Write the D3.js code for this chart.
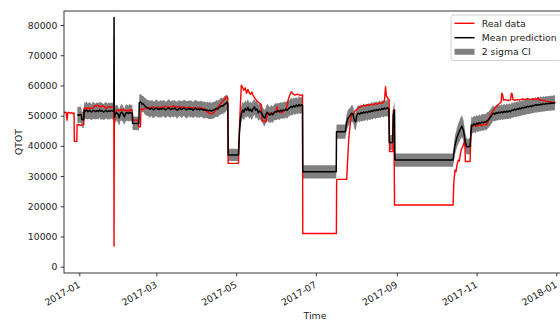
<!DOCTYPE html>
<html>
<head>
<meta charset="utf-8">
<script src="https://cdn.jsdelivr.net/npm/d3@7"></script>
<style>
  body { margin: 0; background: #fff; }
  svg { display: block; }
  text { font-family: "DejaVu Sans", sans-serif; fill: #222; }
</style>
</head>
<body>
<svg id="chart" width="560" height="322"></svg>
<script>
// Day offsets are counted from 2017-01-01 (UTC).
const epoch = Date.UTC(2017, 0, 1);
const xTickLabels = ["2017-01", "2017-03", "2017-05", "2017-07", "2017-09", "2017-11", "2018-01"];
const yTicks = [0, 10000, 20000, 30000, 40000, 50000, 60000, 70000, 80000];
const legendLabels = ["Real data", "Mean prediction", "2 sigma CI"];

// Measured QTOT: [day, value]
const realData = [
  [-11.5, 50800], [-10.8, 51200], [-10, 50900], [-9.4, 48500], [-8.8, 51000], [-8, 51100], [-7, 50800],
  [-6, 51000], [-5, 50700], [-4, 50900], [-3.8, 41500], [-1.9, 41500], [-1.7, 46900], [0, 47000],
  [1.5, 46800], [3.4, 47100], [3.6, 52400], [5, 52600], [6, 52300], [7, 52700], [8, 52200], [9, 52500],
  [10, 52400], [11, 52800], [12, 53300], [13, 53100], [14, 53500], [15, 53200], [16, 52800], [17, 53000],
  [18, 53400], [19, 52900], [20, 52700], [21, 52500], [22, 52800], [23, 53000], [24, 52700], [25, 52900],
  [26.4, 52600], [26.6, 6800], [26.8, 47000], [27.5, 50500], [28.5, 51800], [29.5, 51900], [30.5, 51600],
  [31.5, 52000], [32.5, 51800], [33.5, 52100], [34.5, 51700], [35.5, 51900], [36.5, 51500], [37.5, 51800],
  [38.5, 51700], [39.5, 52000], [40.5, 51800], [40.8, 48600], [45.0, 48500], [45.5, 46300], [46.8, 46300],
  [47.2, 52000], [48, 52300], [49, 52000], [50, 52400], [52, 52700], [54, 52500], [56, 52900], [58, 52600],
  [60, 52800], [62, 52500], [64, 52900], [66, 53100], [68, 52700], [70, 52900], [72, 53200], [74, 52800],
  [76, 53000], [78, 52700], [80, 52900], [82, 52600], [84, 52800], [86, 52500], [88, 52700], [90, 52400],
  [92, 52600], [94, 52400], [96, 52200], [97.5, 51400], [99, 50900], [101, 50600], [102.5, 50800],
  [104, 51600], [105.5, 52500], [107, 53300], [108.5, 54100], [110, 54900], [111.5, 55600], [112.8, 56300],
  [113.6, 55900], [113.9, 34200], [121.8, 34200], [122.4, 44000], [123.2, 53000], [124, 60100], [125, 59300],
  [126, 58400], [127, 59200], [128, 57400], [129, 58700], [130, 57600], [131, 57100], [132, 57800],
  [133, 56700], [134, 56000], [135, 55400], [136.5, 54600], [138, 54100], [139.3, 53600], [139.8, 48300],
  [143, 48000], [143.6, 50800], [145, 50600], [147, 50900], [149, 50700], [150.5, 51500], [151.2, 53000],
  [152, 51600], [154, 51000], [156, 51300], [157.5, 51800], [158.7, 52800], [159.8, 55200], [161, 56800],
  [162.3, 57900], [163.5, 57200], [165, 56800], [167, 57100], [169, 56700], [170.8, 56900], [171, 11000],
  [196.7, 11000], [196.9, 28900], [204.6, 28900], [205.3, 35000], [206.2, 42600], [207.5, 48000],
  [208.5, 50600], [209.5, 50300], [210.5, 51200], [211.5, 51800], [213, 52300], [214.5, 52900], [216, 53100],
  [217.5, 53400], [219, 53200], [220.5, 53600], [222, 53400], [223.5, 53800], [225, 53600], [226.5, 54000],
  [228, 53800], [229.5, 54200], [231, 54000], [232.5, 54400], [233.5, 55000], [234.3, 59600], [235, 56500],
  [236.4, 55600], [237.1, 55300], [237.4, 38100], [240, 38100], [240.3, 51900], [240.7, 51900],
  [241.2, 20400], [286, 20400], [286.6, 28000], [287.5, 32000], [288.3, 31500], [289, 33800], [290, 35300],
  [290.8, 35000], [291.6, 37500], [292.6, 39200], [293.5, 39800], [295, 41900], [295.4, 34800], [299, 34800],
  [299.8, 45000], [300.5, 46300], [302, 46800], [304, 46500], [306, 47000], [308, 46700], [310, 47100],
  [311.7, 47000], [313, 48500], [314.5, 50000], [315.5, 50800], [317, 51800], [318.5, 52800], [320.3, 53500],
  [321.5, 54000], [322.8, 54500], [323.3, 57400], [323.9, 57000], [324.5, 55200], [326, 55300], [328, 55000],
  [330, 55200], [330.6, 57400], [331.2, 57200], [331.8, 55400], [333, 55100], [335, 55300], [337, 55200],
  [339, 55500], [341, 55300], [343, 55600], [345, 55400], [347, 55500], [349, 55300], [350.5, 55600],
  [351, 56000], [351.5, 55400], [353, 55100], [355, 55000], [357, 54800], [359, 54700], [361, 54500],
  [363, 54400], [364.5, 54300]
];

// Model output: [day, mean, sigma]; the band spans mean ± 2 sigma
const prediction = [
  [-1.5, 50300, 1300], [-0.5, 50100, 1400], [0.5, 50400, 1300], [1.5, 50200, 1350], [2, 48700, 1300],
  [3.3, 48600, 1400], [3.8, 51800, 1350], [4.5, 51500, 1300], [5.5, 51900, 1450], [6.5, 51300, 1300],
  [7.5, 51700, 1350], [8.5, 51500, 1400], [9.5, 51200, 1300], [10.5, 51800, 1450], [11.5, 51600, 1350],
  [12.5, 51300, 1300], [13.5, 51700, 1400], [14.5, 51400, 1350], [15.5, 51900, 1300], [16.5, 51500, 1450],
  [17.5, 51600, 1350], [18.5, 51200, 1300], [19.5, 51500, 1400], [20.5, 51800, 1350], [21.5, 51300, 1300],
  [22.5, 51600, 1400], [23.5, 51400, 1350], [24.5, 51700, 1300], [25.5, 51500, 1400], [26.4, 51600, 1350],
  [26.6, 82500, 1350], [26.8, 49500, 1400], [27.5, 50500, 1350], [28.5, 51000, 1300], [29.5, 50600, 1400],
  [30.5, 49300, 1350], [31.5, 50800, 1300], [32.5, 51200, 1400], [33.5, 50500, 1350], [34.5, 49600, 1300],
  [35.5, 50900, 1400], [36.5, 51000, 1350], [37.5, 50700, 1300], [38.5, 51100, 1400], [39.5, 50800, 1350],
  [40.6, 50900, 1300], [40.8, 47500, 1125], [45.6, 47400, 1125], [45.9, 54200, 1400], [47, 54500, 1350],
  [48, 53800, 1400], [49, 53900, 1300], [50, 53200, 1350], [51, 52900, 1400], [52, 52600, 1300],
  [53, 52400, 1350], [54, 52100, 1400], [55, 52500, 1300], [56, 52200, 1450], [57, 51900, 1350],
  [58, 52300, 1300], [59, 52600, 1400], [60, 52200, 1350], [61, 52000, 1300], [62, 52400, 1450],
  [63, 52100, 1350], [64, 52500, 1300], [65, 52300, 1400], [66, 51900, 1350], [67, 52200, 1300],
  [68, 52600, 1400], [69, 52300, 1450], [70, 52000, 1350], [71, 52400, 1300], [72, 52200, 1400],
  [73, 52500, 1350], [74, 52100, 1300], [75, 51800, 1450], [76, 52300, 1350], [77, 52500, 1300],
  [78, 52000, 1400], [79, 52200, 1350], [80, 52600, 1300], [81, 52300, 1400], [82, 51900, 1450],
  [83, 52200, 1350], [84, 52400, 1300], [85, 52100, 1400], [86, 52300, 1350], [87, 51800, 1300],
  [88, 52200, 1400], [89, 52500, 1350], [90, 52000, 1450], [91, 52200, 1300], [92, 51900, 1400],
  [93, 52300, 1350], [94, 52100, 1300], [95, 51800, 1400], [96, 52000, 1350], [97, 51700, 1300],
  [98, 51900, 1400], [99, 51600, 1350], [100, 51800, 1450], [101, 51500, 1300], [102, 51700, 1400],
  [103, 51900, 1350], [104, 52100, 1300], [105, 52400, 1400], [106, 52200, 1350], [107, 52700, 1300],
  [108, 53000, 1400], [109, 53300, 1350], [110, 53200, 1300], [111, 53700, 1400], [112, 54000, 1350],
  [113, 54400, 1300], [113.7, 53800, 1300], [113.9, 37000, 1025], [121.8, 37000, 1025],
  [122.6, 45000, 1500], [123.2, 48600, 1500], [124, 50500, 1400], [125, 51900, 1350], [126, 51200, 1400],
  [127, 52400, 1350], [128, 51800, 1300], [129, 52800, 1400], [130, 51600, 1350], [131, 52100, 1300],
  [132, 51300, 1400], [133, 52300, 1350], [134, 52900, 1300], [135, 51800, 1400], [136, 52200, 1350],
  [137, 50900, 1300], [138, 51600, 1400], [139, 51200, 1350], [140, 50400, 1300], [141, 49500, 1400],
  [142, 49200, 1350], [143, 50600, 1300], [144, 51100, 1400], [145, 50400, 1350], [146, 50200, 1300],
  [147, 50800, 1400], [148, 50300, 1350], [149, 51000, 1300], [150, 51400, 1400], [151, 51200, 1350],
  [152, 51600, 1300], [153, 51300, 1400], [154, 51800, 1350], [155, 51500, 1300], [156, 51900, 1400],
  [157, 51700, 1350], [158, 52100, 1300], [159, 51800, 1400], [160, 52300, 1350], [161, 52600, 1300],
  [162, 53100, 1400], [163, 52700, 1350], [164, 53300, 1300], [165, 52900, 1400], [166, 53500, 1350],
  [167, 53000, 1300], [168, 53700, 1400], [169, 53200, 1350], [170, 53600, 1300], [170.8, 53400, 1350],
  [171, 31400, 1100], [196.6, 31400, 1100], [196.8, 44700, 1175], [203.5, 44700, 1175],
  [204.5, 47500, 1400], [205.5, 49100, 1400], [206.5, 49600, 1350], [207.5, 50200, 1300],
  [208.5, 50800, 1400], [209.5, 50400, 1350], [210.5, 48300, 1300], [211.5, 48000, 1400],
  [212.5, 50300, 1350], [213.5, 50800, 1300], [214.5, 50500, 1400], [215.5, 51000, 1350],
  [216.5, 50700, 1300], [217.5, 51200, 1400], [218.5, 50900, 1350], [219.5, 51300, 1300],
  [220.5, 51000, 1400], [221.5, 51500, 1350], [222.5, 51200, 1300], [223.5, 51700, 1400],
  [224.5, 51400, 1350], [225.5, 51900, 1300], [226.5, 51600, 1400], [227.5, 52000, 1350],
  [228.5, 51700, 1300], [229.5, 52200, 1400], [230.5, 51900, 1350], [231.5, 52400, 1300],
  [232.5, 52100, 1400], [233.5, 52500, 1350], [234.5, 52200, 1300], [235.5, 52600, 1400],
  [236.8, 52400, 1350], [237.2, 41000, 1250], [239.8, 41200, 1250], [240.2, 50200, 1350],
  [241.2, 51900, 1350], [241.5, 35300, 1100], [286, 35300, 1100], [287.3, 40000, 1500],
  [288.8, 42500, 1600], [290, 44000, 1700], [291.5, 45500, 1800], [292.8, 46500, 1800], [294, 45000, 1700],
  [295.5, 41000, 1500], [296.5, 39700, 1300], [299, 39800, 1300], [300, 46900, 1400], [301, 46700, 1300],
  [302, 47300, 1350], [303, 46900, 1400], [304, 47500, 1300], [305, 47200, 1350], [306, 47700, 1400],
  [307, 47400, 1300], [308, 47900, 1350], [309, 47600, 1400], [310, 48000, 1300], [311, 47800, 1350],
  [312, 48300, 1400], [313, 48600, 1300], [314, 49200, 1350], [315, 49700, 1300], [316, 50400, 1300],
  [317, 50800, 1250], [318, 50500, 1200], [319, 51000, 1250], [320, 50700, 1200], [321, 51200, 1250],
  [322, 50900, 1200], [323, 51300, 1250], [324, 51000, 1200], [325, 51400, 1250], [326, 51100, 1200],
  [327, 51500, 1250], [328, 51200, 1200], [329, 51600, 1250], [330, 51300, 1200], [331, 51900, 1250],
  [332, 51700, 1200], [333, 52100, 1250], [334, 51900, 1200], [335, 52300, 1250], [336, 52100, 1200],
  [337, 52500, 1250], [338, 52300, 1200], [339, 52700, 1250], [340, 52500, 1200], [341, 52900, 1250],
  [342, 52700, 1200], [343, 53100, 1250], [344, 52900, 1200], [345, 53200, 1250], [346, 53000, 1200],
  [347, 53400, 1250], [348, 53300, 1200], [349, 53600, 1250], [350, 53400, 1200], [351, 53700, 1250],
  [352, 53500, 1200], [353, 53800, 1250], [354, 53700, 1200], [355, 53900, 1250], [356, 53800, 1200],
  [357, 54000, 1250], [358, 53900, 1200], [359, 54100, 1250], [360, 54000, 1200], [361, 54200, 1250],
  [362, 54100, 1200], [363, 54300, 1250], [364, 54200, 1200]
];

const dayToDate = d => new Date(epoch + d * 864e5);

const svg = d3.select("#chart");
const margin = { left: 64, right: 566, top: 11, bottom: 273 };

const x = d3.scaleUtc()
  .domain([dayToDate(-11.7), dayToDate(372.4)])
  .range([margin.left, margin.right]);
const y = d3.scaleLinear()
  .domain([-2085, 84640])
  .range([margin.bottom, margin.top]);

svg.append("defs").append("clipPath").attr("id", "plot-clip")
  .append("rect")
  .attr("x", margin.left).attr("y", margin.top)
  .attr("width", margin.right - margin.left).attr("height", margin.bottom - margin.top);

const plot = svg.append("g").attr("clip-path", "url(#plot-clip)");

// Confidence band
const band = d3.area()
  .x(d => x(dayToDate(d[0])))
  .y0(d => y(d[1] - 2 * d[2]))
  .y1(d => y(d[1] + 2 * d[2]));
plot.append("path").datum(prediction)
  .attr("d", band)
  .attr("fill", "#808080");

// Real data
const realLine = d3.line()
  .x(d => x(dayToDate(d[0])))
  .y(d => y(d[1]));
plot.append("path").datum(realData)
  .attr("d", realLine)
  .attr("fill", "none")
  .attr("stroke", "#ff0000")
  .attr("stroke-width", 1.4)
  .attr("stroke-linejoin", "round");

// Mean prediction
const meanLine = d3.line()
  .x(d => x(dayToDate(d[0])))
  .y(d => y(d[1]));
plot.append("path").datum(prediction)
  .attr("d", meanLine)
  .attr("fill", "none")
  .attr("stroke", "#000")
  .attr("stroke-width", 1.5)
  .attr("stroke-linejoin", "round");

// Axes
const fontSize = 9.3;
const yAxis = d3.axisLeft(y).tickValues(yTicks).tickSize(3.3).tickPadding(3.3)
  .tickFormat(d3.format("d"));
const yG = svg.append("g").attr("transform", `translate(${margin.left},0)`).call(yAxis);

const xTickDates = xTickLabels.map(s => {
  const [yy, mm] = s.split("-").map(Number);
  return new Date(Date.UTC(yy, mm - 1, 1));
});
const xAxis = d3.axisBottom(x).tickValues(xTickDates).tickSize(3.3)
  .tickFormat((d, i) => xTickLabels[i]);
const xG = svg.append("g").attr("transform", `translate(0,${margin.bottom})`).call(xAxis);

[xG, yG].forEach(g => {
  g.select(".domain").remove();
  g.selectAll(".tick line").attr("stroke", "#222").attr("stroke-width", 0.9);
  g.selectAll(".tick text").attr("font-size", fontSize).attr("fill", "#222")
    .attr("font-family", "DejaVu Sans, sans-serif");
});
xG.selectAll(".tick text")
  .attr("text-anchor", "end")
  .attr("dy", null)
  .attr("y", 0)
  .attr("transform", "translate(1,13.5) rotate(-30)");

// Frame: left, bottom and top spines (right side lies beyond the visible area)
const frame = svg.append("g").attr("stroke", "#222").attr("stroke-width", 0.9).attr("fill", "none");
frame.append("rect")
  .attr("x", margin.left).attr("y", margin.top)
  .attr("width", margin.right - margin.left).attr("height", margin.bottom - margin.top);

// Axis titles
svg.append("text")
  .attr("x", (margin.left + margin.right) / 2).attr("y", 319)
  .attr("text-anchor", "middle").attr("font-size", fontSize)
  .text("Time");
svg.append("text")
  .attr("transform", `translate(21.5,${(margin.top + margin.bottom) / 2}) rotate(-90)`)
  .attr("text-anchor", "middle").attr("font-size", fontSize)
  .text("QTOT");

// Legend
const legend = svg.append("g").attr("transform", "translate(451,15)");
legend.append("rect")
  .attr("x", 0).attr("y", 0).attr("width", 110).attr("height", 45.5)
  .attr("rx", 2.5).attr("fill", "#fff").attr("fill-opacity", 0.8)
  .attr("stroke", "#ccc").attr("stroke-width", 0.9);
const rowY = [8.3, 22.7, 36.8];
legend.append("line").attr("x1", 3.5).attr("x2", 23.5).attr("y1", rowY[0]).attr("y2", rowY[0])
  .attr("stroke", "#ff0000").attr("stroke-width", 1.4);
legend.append("line").attr("x1", 3.5).attr("x2", 23.5).attr("y1", rowY[1]).attr("y2", rowY[1])
  .attr("stroke", "#000").attr("stroke-width", 1.5);
legend.append("rect").attr("x", 3.5).attr("y", rowY[2] - 3).attr("width", 20).attr("height", 6)
  .attr("fill", "#808080");
legend.selectAll("text.lbl").data(legendLabels).join("text")
  .attr("class", "lbl")
  .attr("x", 30.7).attr("y", (d, i) => rowY[i] + 3.4)
  .attr("font-size", fontSize)
  .text(d => d);
</script>
</body>
</html>
